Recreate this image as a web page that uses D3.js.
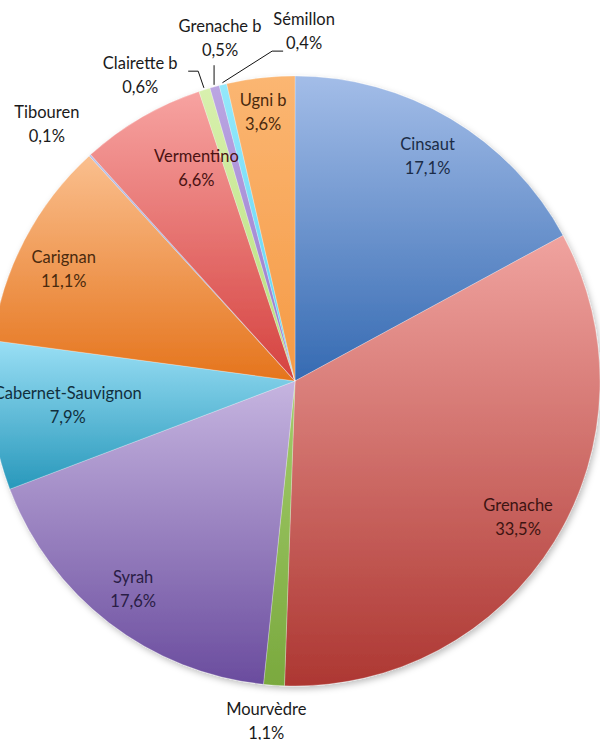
<!DOCTYPE html>
<html lang="fr">
<head>
    <meta charset="UTF-8">
    <title>Cépages</title>
    <style>
        body {
            margin: 0;
            background: #fff;
        }

        svg {
            display: block;
        }

        .slice-label {
            font-family: Lato, 'Open Sans', sans-serif;
            font-size: 16.5px;
        }

        .leader {
            fill: none;
            stroke: #111;
            stroke-width: 1;
        }
    </style>
</head>
<body>
    <div id="chart"></div>

    <script src="https://cdn.jsdelivr.net/npm/d3@7"></script>
    <script>
        // data, clockwise from 12 o'clock
        const cepages = ["Cinsaut", "Grenache", "Mourvèdre", "Syrah", "Cabernet-Sauvignon", "Carignan",
            "Tibouren", "Vermentino", "Clairette b", "Grenache b", "Sémillon", "Ugni b"];
        const parts = [17.1, 33.5, 1.1, 17.6, 7.9, 11.1, 0.1, 6.6, 0.6, 0.5, 0.4, 3.6];

        // gradient colours per slice, light (top) to dark (bottom)
        const lightColors = ["#a3bde8", "#f0a39f", "#a4cc6c", "#c6b5e0", "#9adff5", "#fabf8e",
            "#b9c2ea", "#f7a3a1", "#d8f0ae", "#bba6e2", "#94e8fb", "#fbb672"];
        const darkColors = ["#356ab2", "#ad3732", "#7aa93e", "#6a4c9e", "#2898bb", "#e5741c",
            "#8a96cc", "#d5423f", "#b6df7a", "#9477cc", "#5bd3f2", "#f59a45"];
        const textColors = ["#1b2c47", "#3d1412", null, "#2a1d45", "#112f3d", "#4a2a0e",
            null, "#4a1212", null, null, null, "#4a2a0e"];

        const width = 600;
        const height = 740;
        const cx = 295;
        const cy = 381;
        const radius = 305;

        // label placement: angle override (deg, clockwise from top) and radius factor
        const labelLayout = {
            "Cinsaut": { r: 0.85 },
            "Grenache": { r: 0.86 },
            "Mourvèdre": { a: 184.8, r: 1.125 },
            "Syrah": { r: 0.87 },
            "Cabernet-Sauvignon": { r: 0.75 },
            "Carignan": { a: 295.5, r: 0.84 },
            "Tibouren": { a: 315.8, r: 1.167 },
            "Vermentino": { a: 335, r: 0.765 },
            "Clairette b": { a: 333, r: 1.118, leader: [[58, -6], [48, -6]] },
            "Grenache b": { a: 347.6, r: 1.144, leader: [[null, 25]] },
            "Sémillon": { a: 1.5, r: 1.141, leader: [[-32, 18], [-21, 18]] },
            "Ugni b": { a: 353.2, r: 0.882 }
        };

        const data = cepages.map((name, i) => ({
            name: name,
            value: parts[i],
            light: lightColors[i],
            dark: darkColors[i],
            text: textColors[i] || "#1a1a1a"
        }));

        const fmt = v => v.toFixed(1).replace(".", ",") + "%";

        const polar = (angleRad, dist) => [cx + dist * Math.sin(angleRad), cy - dist * Math.cos(angleRad)];

        const svg = d3.select("#chart")
            .append("svg")
            .attr("width", width)
            .attr("height", height);

        const defs = svg.append("defs");

        const shadow = defs.append("filter")
            .attr("id", "shadow")
            .attr("x", "-10%").attr("y", "-10%")
            .attr("width", "120%").attr("height", "120%");
        shadow.append("feDropShadow")
            .attr("dx", 2)
            .attr("dy", 3)
            .attr("stdDeviation", 3)
            .attr("flood-color", "#000")
            .attr("flood-opacity", 0.25);

        data.forEach((d, i) => {
            const grad = defs.append("linearGradient")
                .attr("id", `grad-${i}`)
                .attr("x1", 0).attr("y1", 0)
                .attr("x2", 0).attr("y2", 1);
            grad.append("stop").attr("offset", "0%").attr("stop-color", d.light);
            grad.append("stop").attr("offset", "100%").attr("stop-color", d.dark);
        });

        const pie = d3.pie()
            .sort(null)
            .value(d => d.value)
            .startAngle(0)
            .endAngle(2 * Math.PI);

        const arc = d3.arc()
            .innerRadius(0)
            .outerRadius(radius);

        const arcs = pie(data);

        const g = svg.append("g")
            .attr("transform", `translate(${cx}, ${cy})`);

        g.append("g")
            .attr("filter", "url(#shadow)")
            .selectAll("path")
            .data(arcs)
            .enter()
                .append("path")
                .attr("d", arc)
                .attr("fill", (d, i) => `url(#grad-${i})`)
                .attr("stroke", "rgba(255,255,255,0.35)")
                .attr("stroke-width", 0.75);

        // labels
        const labelPoint = d => {
            const lay = labelLayout[d.data.name];
            const mid = (d.startAngle + d.endAngle) / 2;
            const ang = lay.a != null ? lay.a * Math.PI / 180 : mid;
            return polar(ang, radius * lay.r);
        };

        arcs.forEach(d => {
            const [x, y] = labelPoint(d);
            const lay = labelLayout[d.data.name];
            const outside = lay.r > 1;
            const t = svg.append("text")
                .attr("class", "slice-label")
                .attr("text-anchor", "middle")
                .attr("fill", outside ? "#1a1a1a" : d.data.text);
            t.append("tspan")
                .attr("x", x)
                .attr("y", y - 12)
                .attr("dominant-baseline", "middle")
                .text(d.data.name);
            t.append("tspan")
                .attr("x", x)
                .attr("y", y + 12)
                .attr("dominant-baseline", "middle")
                .text(fmt(d.data.value));

            if (lay.leader) {
                const mid = (d.startAngle + d.endAngle) / 2;
                const start = polar(mid, radius + 2);
                const pts = [start];
                lay.leader.forEach(p => {
                    pts.push([p[0] == null ? start[0] : x + p[0], y + p[1]]);
                });
                svg.append("path")
                    .attr("class", "leader")
                    .attr("d", d3.line()(pts));
            }
        });
    </script>
</body>
</html>
